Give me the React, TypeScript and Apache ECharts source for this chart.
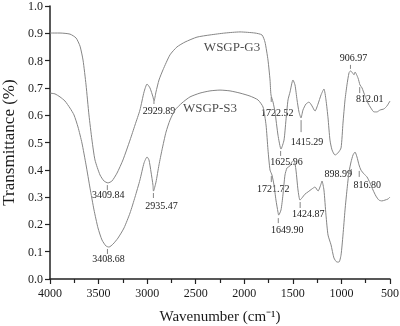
import React, { useEffect, useRef } from "react";
import * as echarts from "echarts";

// ---- Data ----
const G3_WN = [4000, 3897, 3794, 3732, 3691, 3660, 3629, 3599, 3568, 3537, 3485, 3444, 3403, 3362, 3310, 3249, 3176, 3125, 3074, 3032, 3001, 2971, 2940, 2929, 2909, 2878, 2837, 2765, 2693, 2610, 2487, 2353, 2199, 2044, 1890, 1818, 1787, 1756, 1735, 1725, 1704, 1684, 1653, 1622, 1591, 1571, 1550, 1529, 1499, 1478, 1457, 1437, 1416, 1396, 1365, 1334, 1303, 1272, 1241, 1210, 1180, 1159, 1138, 1118, 1097, 1066, 1035, 1004, 984, 963, 943, 922, 907, 892, 870, 860, 829, 809, 788, 757, 727, 696, 665, 634, 603, 562, 531, 500];
const G3_T = [0.901, 0.901, 0.897, 0.883, 0.853, 0.802, 0.711, 0.601, 0.509, 0.436, 0.381, 0.359, 0.352, 0.359, 0.388, 0.436, 0.509, 0.564, 0.619, 0.685, 0.714, 0.700, 0.667, 0.652, 0.685, 0.729, 0.766, 0.821, 0.850, 0.868, 0.886, 0.894, 0.901, 0.905, 0.901, 0.894, 0.868, 0.802, 0.729, 0.674, 0.648, 0.612, 0.527, 0.476, 0.509, 0.582, 0.656, 0.685, 0.729, 0.711, 0.656, 0.612, 0.590, 0.619, 0.641, 0.648, 0.634, 0.615, 0.641, 0.674, 0.696, 0.656, 0.590, 0.509, 0.473, 0.454, 0.462, 0.480, 0.571, 0.656, 0.711, 0.755, 0.762, 0.758, 0.748, 0.758, 0.736, 0.711, 0.700, 0.670, 0.645, 0.626, 0.612, 0.612, 0.619, 0.623, 0.634, 0.652];

const S3_WN = [4000, 3949, 3897, 3846, 3794, 3753, 3712, 3671, 3629, 3588, 3547, 3506, 3465, 3424, 3393, 3351, 3300, 3238, 3176, 3125, 3074, 3032, 3001, 2981, 2960, 2940, 2935, 2909, 2878, 2847, 2806, 2765, 2713, 2641, 2559, 2456, 2353, 2250, 2147, 2044, 1941, 1859, 1807, 1776, 1756, 1735, 1715, 1694, 1674, 1653, 1646, 1622, 1602, 1581, 1560, 1530, 1509, 1488, 1468, 1447, 1427, 1406, 1375, 1344, 1303, 1272, 1241, 1210, 1200, 1180, 1159, 1138, 1107, 1077, 1046, 1025, 1004, 984, 963, 943, 922, 901, 881, 860, 840, 819, 799, 768, 737, 706, 675, 645, 614, 583, 552, 521, 500];
const S3_T = [0.681, 0.678, 0.667, 0.652, 0.626, 0.601, 0.557, 0.498, 0.418, 0.333, 0.253, 0.187, 0.143, 0.121, 0.117, 0.128, 0.150, 0.187, 0.242, 0.300, 0.363, 0.425, 0.447, 0.436, 0.392, 0.344, 0.322, 0.355, 0.418, 0.473, 0.538, 0.582, 0.619, 0.645, 0.667, 0.681, 0.689, 0.692, 0.689, 0.681, 0.670, 0.656, 0.630, 0.564, 0.473, 0.399, 0.381, 0.344, 0.289, 0.245, 0.234, 0.253, 0.308, 0.381, 0.407, 0.414, 0.429, 0.436, 0.399, 0.326, 0.289, 0.297, 0.311, 0.319, 0.330, 0.337, 0.322, 0.348, 0.359, 0.326, 0.234, 0.161, 0.125, 0.077, 0.062, 0.062, 0.088, 0.161, 0.253, 0.326, 0.392, 0.429, 0.454, 0.465, 0.447, 0.418, 0.399, 0.385, 0.374, 0.352, 0.326, 0.304, 0.289, 0.286, 0.289, 0.293, 0.300];

// Peak annotations: wavenumber label and transmittance where the marker starts
const PEAK_LABELS = ["3409.84", "2929.89", "1722.52", "1625.96", "1415.29", "906.97", "812.01", "3408.68", "2935.47", "1721.72", "1649.90", "1424.87", "898.99", "816.80"];
const PEAK_T = [0.344, 0.652, 0.667, 0.469, 0.582, 0.766, 0.703, 0.110, 0.315, 0.377, 0.223, 0.282, 0.403, 0.396];

const SERIES_NAMES = ["WSGP-G3", "WSGP-S3"];
const SERIES_LABEL_POS = [[2126, 0.85], [2353, 0.63]];

const X_TICKS = { min: 500, max: 4000, interval: 500 };
const Y_TICKS = { min: 0, max: 1, interval: 0.1 };

// ---- Layout of annotation markers (pixels): [tickFrom, tickTo, textDx, textDy]
const PEAK_LAYOUT = [
  [0, 5, 1, 9],
  [0, 3, 5, 9],
  [0, 5, 6, 16],
  [0, 5, 6, 11],
  [0, 12, 6, 21],
  [-1, -5, 3, -12],
  [0, 6, 10, 11],
  [0, 5, 1, 10],
  [0, 5, 8, 12],
  [0, 6, 2, 12],
  [0, 5, 9, 11],
  [0, 6, 8, 11],
  [0, 6, -13, 5],
  [0, 6, 8, 14],
];

const FONT = '"Liberation Serif", "Times New Roman", serif';
const LINE_COLOR = "#858585";
const TEXT_COLOR = "#1a1a1a";

export default function App() {
  const ref = useRef<HTMLDivElement>(null);

  useEffect(() => {
    if (!ref.current) return;
    const chart = echarts.init(ref.current, null, { renderer: "svg" });

    const g3 = G3_WN.map((w, i) => [w, G3_T[i]]);
    const s3 = S3_WN.map((w, i) => [w, S3_T[i]]);
    const peaks = PEAK_LABELS.map((l, i) => [parseFloat(l), PEAK_T[i], i]);

    const option: any = {
      animation: false,
      grid: {
        left: 50,
        right: 10,
        top: 6,
        bottom: 47,
        containLabel: false,
        outerBoundsMode: "none",
      },
      xAxis: {
        type: "value",
        inverse: true,
        min: X_TICKS.min,
        max: X_TICKS.max,
        interval: X_TICKS.interval,
        name: "Wavenumber (cm\u207B\u00B9)",
        nameLocation: "middle",
        nameGap: 29,
        nameTextStyle: { fontFamily: FONT, fontSize: 15, color: TEXT_COLOR },
        axisLine: { show: true, lineStyle: { color: "#222", width: 1.5 } },
        axisTick: { show: true, inside: false, length: 5, lineStyle: { color: "#222", width: 1.2 } },
        minorTick: { show: true, splitNumber: 2, length: 4, lineStyle: { color: "#222", width: 1.2 } },
        axisLabel: {
          fontFamily: FONT,
          fontSize: 12,
          color: TEXT_COLOR,
          margin: 8,
          formatter: (v: number) => String(v),
        },
        splitLine: { show: false },
      },
      yAxis: {
        type: "value",
        min: Y_TICKS.min,
        max: Y_TICKS.max,
        interval: Y_TICKS.interval,
        name: "Transmittance (%)",
        nameLocation: "middle",
        nameGap: 25,
        nameTextStyle: { fontFamily: FONT, fontSize: 17, color: TEXT_COLOR },
        axisLine: { show: true, lineStyle: { color: "#222", width: 1.5 } },
        axisTick: { show: true, inside: false, length: 5, lineStyle: { color: "#222", width: 1.2 } },
        axisLabel: {
          fontFamily: FONT,
          fontSize: 12,
          color: TEXT_COLOR,
          margin: 7,
          formatter: (v: number) => v.toFixed(1),
        },
        splitLine: { show: false },
      },
      series: [
        {
          name: SERIES_NAMES[0],
          type: "line",
          data: g3,
          showSymbol: false,
          smooth: 0.2,
          lineStyle: { color: LINE_COLOR, width: 1 },
          silent: true,
        },
        {
          name: SERIES_NAMES[1],
          type: "line",
          data: s3,
          showSymbol: false,
          smooth: 0.2,
          lineStyle: { color: LINE_COLOR, width: 1 },
          silent: true,
        },
        {
          type: "custom",
          data: peaks,
          silent: true,
          clip: false,
          renderItem: (params: any, api: any) => {
            const i = api.value(2);
            const p = api.coord([api.value(0), api.value(1)]);
            const [t0, t1, dx, dy] = PEAK_LAYOUT[i];
            return {
              type: "group",
              children: [
                {
                  type: "line",
                  shape: { x1: p[0], y1: p[1] + t0, x2: p[0], y2: p[1] + t1 },
                  style: { stroke: LINE_COLOR, lineWidth: 1 },
                },
                {
                  type: "text",
                  x: p[0] + dx,
                  y: p[1] + dy,
                  style: {
                    text: PEAK_LABELS[i],
                    font: `10px ${FONT}`,
                    fill: TEXT_COLOR,
                    align: "center",
                    verticalAlign: "middle",
                    textAlign: "center",
                    textVerticalAlign: "middle",
                  },
                },
              ],
            };
          },
        },
        {
          type: "scatter",
          data: SERIES_LABEL_POS.map((p, i) => ({ value: p, name: SERIES_NAMES[i] })),
          symbolSize: 0,
          silent: true,
          label: {
            show: true,
            position: "inside",
            formatter: (p: any) => p.name,
            fontFamily: FONT,
            fontSize: 13,
            color: TEXT_COLOR,
          },
        },
      ],
    };

    chart.setOption(option);
    return () => chart.dispose();
  }, []);

  return (
    <div
      ref={ref}
      style={{ position: "fixed", left: 0, top: 0, width: 400, height: 326 }}
    />
  );
}
